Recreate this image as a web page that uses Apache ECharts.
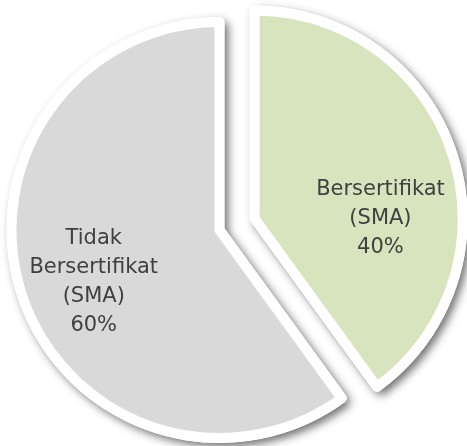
<!DOCTYPE html>
<html>
<head>
<meta charset="utf-8">
<script src="https://cdn.jsdelivr.net/npm/echarts@6/dist/echarts.min.js"></script>
<style>
html,body{margin:0;padding:0;background:#fff;}
#chart{width:467px;height:446px;}
</style>
</head>
<body>
<div id="chart"></div>
<script>
var categories = ["Bersertifikat\n(SMA)", "Tidak\nBersertifikat\n(SMA)"];
var values = [40, 60];
var colors = ["#D7E4BD", "#D9D9D9"];
var exploded = [true, false];
var labelOffsets = [[24, 33], [-24, 19]];

function buildData(withLabels) {
  return categories.map(function (c, i) {
    var lab = withLabels ? { show: true, offset: labelOffsets[i] } : { show: false };
    return {
      name: c,
      value: values[i],
      selected: exploded[i],
      itemStyle: { color: colors[i] },
      label: lab,
      select: { label: lab, itemStyle: { color: colors[i] } }
    };
  });
}

var common = {
  type: 'pie',
  center: [219.5, 230],
  radius: [0, 208],
  startAngle: 90,
  clockwise: true,
  selectedMode: 'multiple',
  selectedOffset: 37,
  avoidLabelOverlap: false,
  emphasis: { disabled: true },
  labelLine: { show: false }
};

var chart = echarts.init(document.getElementById('chart'), null, { renderer: 'canvas' });
chart.setOption({
  animation: false,
  series: [
    Object.assign({}, common, {
      silent: true,
      z: 1,
      itemStyle: {
        borderColor: '#FFFFFF',
        borderWidth: 10,
        shadowBlur: 10,
        shadowOffsetX: 4,
        shadowOffsetY: 4,
        shadowColor: 'rgba(0,0,0,0.45)'
      },
      label: { show: false },
      data: buildData(false)
    }),
    Object.assign({}, common, {
      z: 2,
      itemStyle: {
        borderColor: '#FFFFFF',
        borderWidth: 10
      },
      label: {
        show: true,
        position: 'inside',
        formatter: '{b}\n{d}%',
        color: '#404040',
        fontFamily: 'DejaVu Sans',
        fontSize: 21,
        lineHeight: 29,
        align: 'center'
      },
      data: buildData(true)
    })
  ]
});
</script>
</body>
</html>
